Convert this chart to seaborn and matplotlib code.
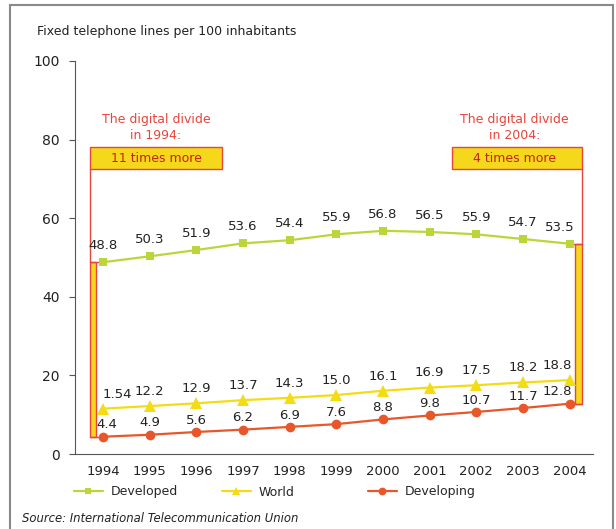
import numpy as np
import pandas as pd
import matplotlib
matplotlib.use("Agg")
import matplotlib.pyplot as plt
from matplotlib.patches import Rectangle
import seaborn as sns

# data
years = ['1994', '1995', '1996', '1997', '1998', '1999', '2000', '2001', '2002', '2003', '2004']
developed = [48.8, 50.3, 51.9, 53.6, 54.4, 55.9, 56.8, 56.5, 55.9, 54.7, 53.5]
world = [11.54, 12.2, 12.9, 13.7, 14.3, 15.0, 16.1, 16.9, 17.5, 18.2, 18.8]
developing = [4.4, 4.9, 5.6, 6.2, 6.9, 7.6, 8.8, 9.8, 10.7, 11.7, 12.8]
# labels as printed on the chart (the 1994 world value is printed cut off)
world_labels = ['1.54', '12.2', '12.9', '13.7', '14.3', '15.0', '16.1', '16.9', '17.5', '18.2', '18.8']
divide_years = ['1994', '2004']
divide_text = ['11 times more', '4 times more']

c_dev = '#bcd53a'
c_world = '#f4dc14'
c_devg = '#e8572a'
c_red = '#e8453c'
c_yellow = '#f5d81c'
c_text = '#222222'

sns.set_style('white')
plt.rcParams['font.family'] = ['DejaVu Sans']

x = np.arange(len(years))
df = pd.DataFrame({'x': x, 'Developed': developed, 'World': world, 'Developing': developing})

fig = plt.figure(figsize=(6.16, 5.29), dpi=100)
ax = fig.add_axes([75 / 616, 1 - 454 / 529, 518 / 616, 393 / 529])

sns.lineplot(data=df, x='x', y='Developed', ax=ax, color=c_dev, marker='s', markersize=6,
             markeredgewidth=0, linewidth=1.6, label='Developed')
sns.lineplot(data=df, x='x', y='World', ax=ax, color=c_world, marker='^', markersize=8,
             markeredgewidth=0, linewidth=1.6, label='World')
sns.lineplot(data=df, x='x', y='Developing', ax=ax, color=c_devg, marker='o', markersize=7,
             markeredgewidth=0, linewidth=1.6, label='Developing')

# value labels
lab_fs = 9.5
for i in x:
    dx = -7 if i == 10 else 0
    ax.annotate(f'{developed[i]:.1f}', (i, developed[i]), xytext=(dx, 12), textcoords='offset points',
                ha='center', va='center', fontsize=lab_fs, color=c_text)
    dx = 10 if i == 0 else (-9 if i == 10 else 0)
    ax.annotate(world_labels[i], (i, world[i]), xytext=(dx, 10.5), textcoords='offset points',
                ha='center', va='center', fontsize=lab_fs, color=c_text)
    dx = 3 if i == 0 else (-9 if i == 10 else 0)
    ax.annotate(f'{developing[i]:.1f}', (i, developing[i]), xytext=(dx, 8.5), textcoords='offset points',
                ha='center', va='center', fontsize=lab_fs, color=c_text)

# digital divide brackets
box_lo, box_hi = 72.5, 78.0
for yr, txt in zip(divide_years, divide_text):
    k = years.index(yr)
    lo, hi = developing[k], developed[k]
    if k == 0:
        bx0, bx1 = -0.28, -0.15
        box_x0, box_x1 = -0.28, 2.55
        line_x = bx0
        tx = (box_x0 + box_x1) / 2
    else:
        bx0, bx1 = k + 0.11, k + 0.27
        box_x0, box_x1 = 7.47, k + 0.27
        line_x = bx1
        tx = (box_x0 + box_x1) / 2 - 0.05
    ax.add_patch(Rectangle((bx0, lo), bx1 - bx0, hi - lo, facecolor=c_yellow, edgecolor=c_red,
                           linewidth=1, zorder=1))
    # connectors to the points
    ax.plot([min(k, bx0), max(k, bx1)], [lo, lo], color=c_red, lw=1, zorder=1)
    ax.plot([min(k, bx0), max(k, bx1)], [hi, hi], color=c_red, lw=1, zorder=1)
    ax.plot([line_x, line_x], [hi, box_lo], color=c_red, lw=1, zorder=1)
    ax.add_patch(Rectangle((box_x0, box_lo), box_x1 - box_x0, box_hi - box_lo, facecolor=c_yellow,
                           edgecolor=c_red, linewidth=1, zorder=2))
    ax.text(tx, (box_lo + box_hi) / 2, txt, ha='center', va='center', fontsize=9, color='#c8201c', zorder=3)
    ax.text(tx, 83.2, f'The digital divide\nin {yr}:', ha='center', va='center', fontsize=9,
            color=c_red, linespacing=1.3)

ax.set_xlim(-0.6, 10.47)
ax.set_ylim(0, 100)
ax.set_yticks([0, 20, 40, 60, 80, 100])
ax.set_xticks(x)
ax.set_xticklabels(years)
ax.set_xticks(np.arange(0.5, 10.6, 1), minor=True)
ax.tick_params(axis='x', which='major', length=0, pad=8, labelsize=9.5, labelcolor=c_text)
ax.tick_params(axis='x', which='minor', length=4, width=0.8, color='#555555', direction='out')
ax.tick_params(axis='y', length=4, width=0.8, color='#555555', pad=7, labelsize=10, labelcolor=c_text, left=True)
ax.set_xlabel('')
ax.set_ylabel('')
for s in ['top', 'right']:
    ax.spines[s].set_visible(False)
for s in ['left', 'bottom']:
    ax.spines[s].set_color('#555555')
    ax.spines[s].set_linewidth(0.8)

# legend: three entries placed separately, like the original
handles, labels = ax.get_legend_handles_labels()
ax.get_legend().remove()
leg_x = [74, 222, 368]
for h, l, lx in zip(handles, labels, leg_x):
    fig.legend([h], [l], loc='center left', bbox_to_anchor=(lx / 616, 1 - 492 / 529),
               frameon=False, fontsize=9, handlelength=2.3, handletextpad=0.6,
               borderpad=0, borderaxespad=0, markerscale=0.8)

fig.text(37 / 616, 1 - 32 / 529, 'Fixed telephone lines per 100 inhabitants', fontsize=9,
         color=c_text, va='center')
fig.text(22 / 616, 1 - 518 / 529, 'Source: International Telecommunication Union', fontsize=8.4,
         style='italic', color=c_text, va='center')

# outer frame
fig.patches.append(Rectangle((10 / 616, -0.05), 603 / 616, 1.05 - 5 / 529, transform=fig.transFigure,
                             fill=False, edgecolor='#8a8a8a', linewidth=1.5))

fig.savefig('out.png', dpi=100)
